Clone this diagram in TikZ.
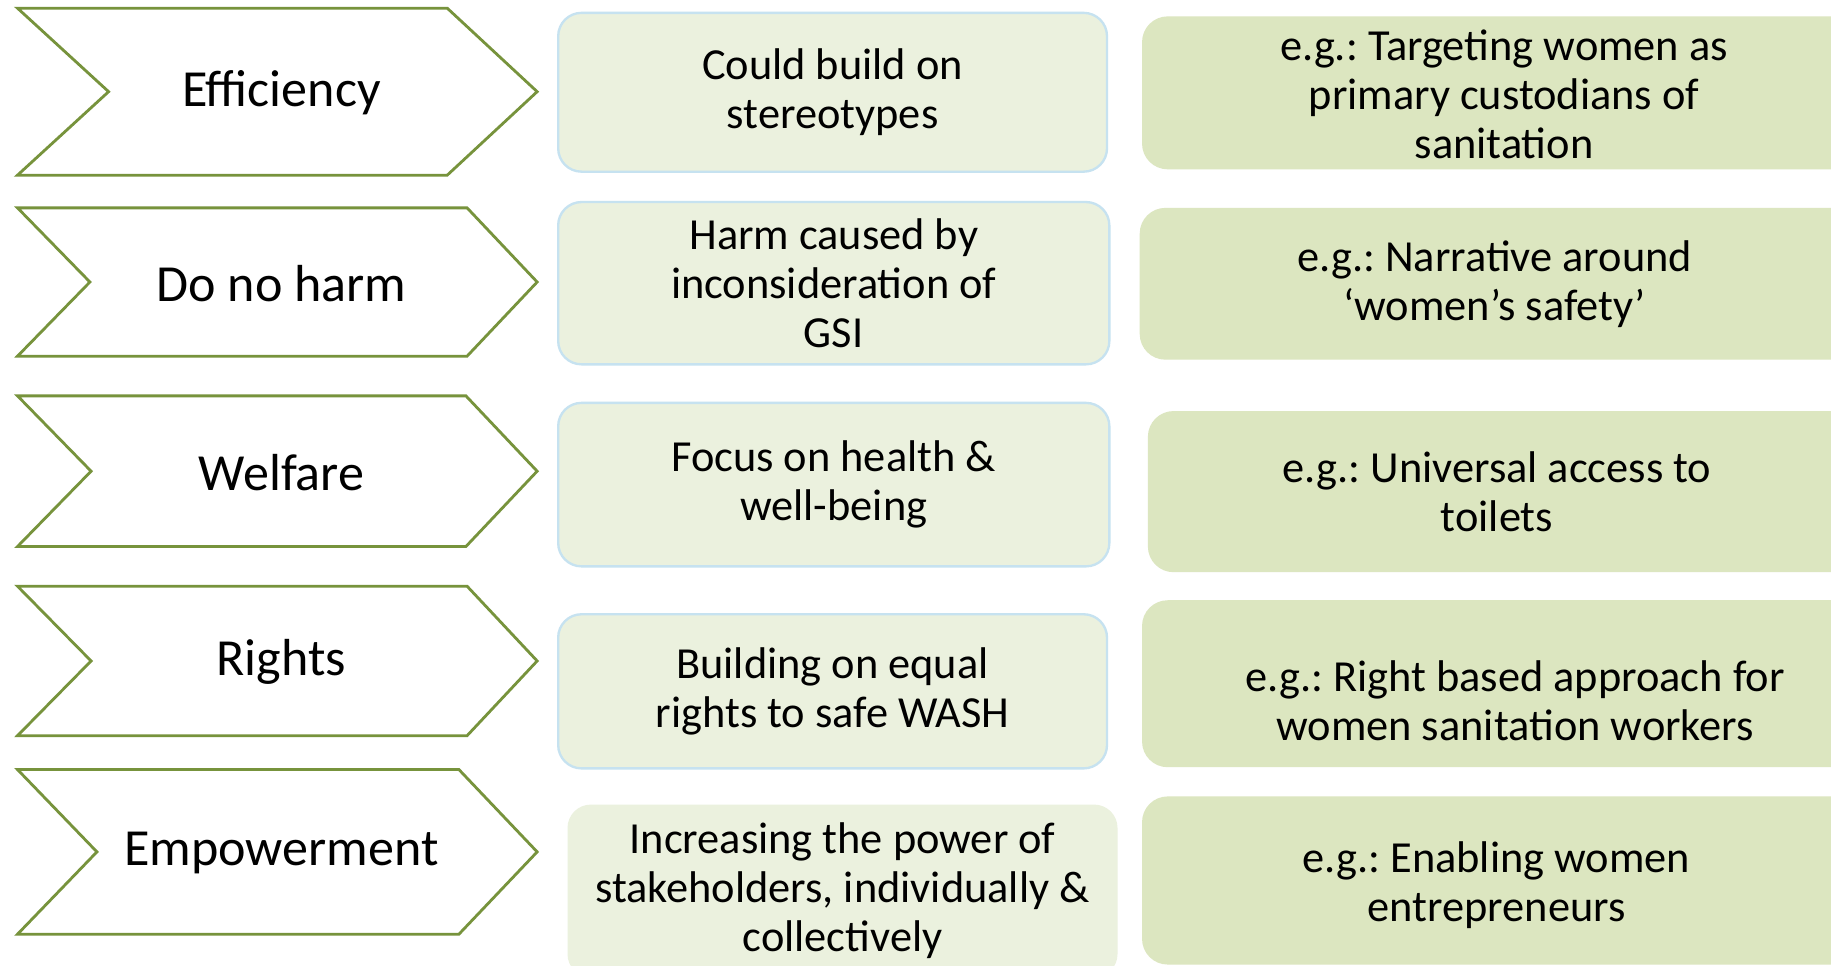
\documentclass[tikz,border=0pt]{standalone}
\usepackage{fontspec}
\setmainfont{Carlito}
\frenchspacing
\definecolor{olivec}{RGB}{119,147,60}
\definecolor{midfill}{RGB}{235,241,222}
\definecolor{midline}{RGB}{198,226,240}
\definecolor{rfill}{RGB}{220,230,192}
\newcommand{\mychev}[6]{%
  \draw[chev] (15,#2) -- (#5,#2) -- (460,{(#2+#3)/2}) -- (#5,#3) -- (15,#3) -- (#4,{(#2+#3)/2}) -- cycle;
  \node[chevtext] (#1) at (241,{(#2+#3)/2+1}) {#6};}
\begin{document}
\begin{tikzpicture}[x=0.5pt,y=-0.5pt,
  chev/.style={draw=olivec,line width=1.2pt,fill=white,line join=miter},
  chevtext/.style={font=\fontsize{22.3}{26}\selectfont,align=center,inner sep=0pt},
  midbox/.style={draw=midline,line width=1pt,fill=midfill,rounded corners=10pt,inner sep=0pt,align=center,font=\fontsize{19}{21}\selectfont},
  rbox/.style={fill=rfill,rounded corners=11pt,inner sep=0pt},
  rtext/.style={align=center,font=\fontsize{19}{21}\selectfont,inner sep=0pt}]
\useasboundingbox (0,0) rectangle (1568,827);
\fill[white] (0,0) rectangle (1568,827);
% chevrons
\mychev{c1}{7}{150}{93}{383}{Efficiency}
\mychev{c2}{178}{305}{77}{400}{Do no harm}
\mychev{c3}{339}{468}{78}{399}{Welfare}
\mychev{c4}{502}{630}{78}{400}{Rights}
\mychev{c5}{659}{800}{83}{393}{Empowerment}
% middle boxes
\node[midbox,minimum width=235pt,minimum height=68pt] (m1) at (713,79) {Could build on\\stereotypes};
\node[midbox,minimum width=236pt,minimum height=69.5pt] (m2) at (714,242.5) {Harm caused by\\inconsideration of\\GSI};
\node[midbox,minimum width=236pt,minimum height=70pt] (m3) at (714,415) {Focus on health \&\\well-being};
\node[midbox,minimum width=235pt,minimum height=66pt] (m4) at (713,592) {Building on equal\\rights to safe WASH};
\node[midbox,draw=none,minimum width=235.5pt,minimum height=74pt] (m5) at (721.5,763) {Increasing the power of\\stakeholders, individually \&\\collectively};
% right boxes
\node[rbox,minimum width=311pt,minimum height=65.5pt] (r1) at (1289,79.5) {};
\node[rbox,minimum width=312pt,minimum height=65pt] (r2) at (1288,243) {};
\node[rbox,minimum width=308.5pt,minimum height=69pt] (r3) at (1291.5,421) {};
\node[rbox,minimum width=311pt,minimum height=71.5pt] (r4) at (1289,585.5) {};
\node[rbox,minimum width=311pt,minimum height=72pt] (r5) at (1289,754) {};
\node[rtext] (t1) at (1288,81) {e.g.: Targeting women as\\primary custodians of\\sanitation};
\node[rtext] (t2) at (1280,243) {e.g.: Narrative around\\‘women’s safety’};
\node[rtext] (t3) at (1282,421) {e.g.: Universal access to\\toilets};
\node[rtext] (t4) at (1297.5,600) {e.g.: Right based approach for\\women sanitation workers};
\node[rtext] (t5) at (1281.5,758) {e.g.: Enabling women\\entrepreneurs};
\end{tikzpicture}
\end{document}
